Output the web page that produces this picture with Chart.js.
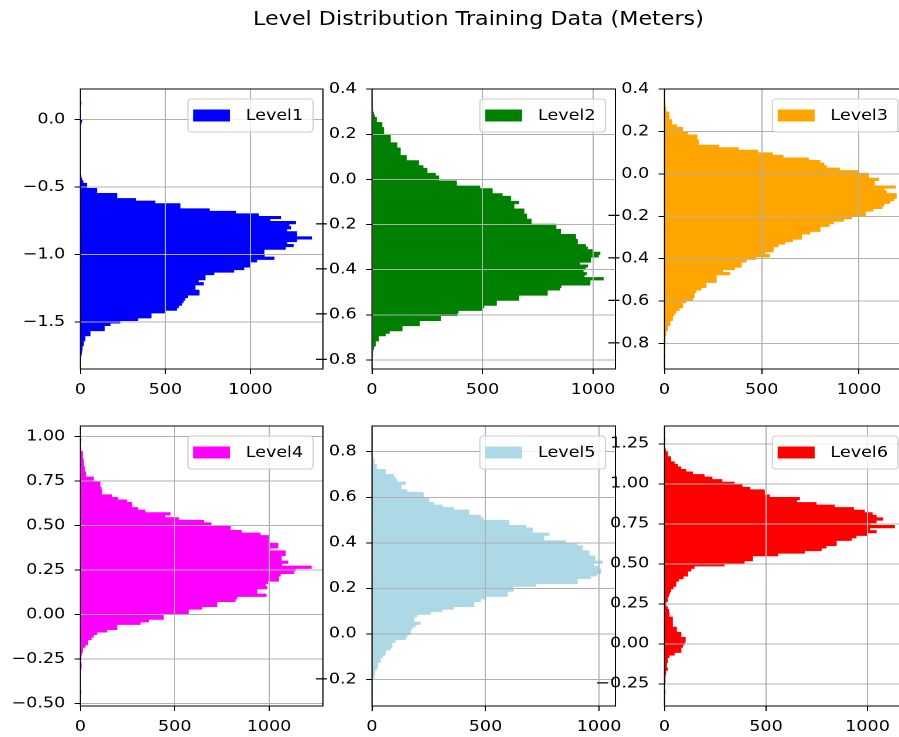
<!DOCTYPE html>
<html>
<head>
<meta charset="utf-8">
<script src="https://cdn.jsdelivr.net/npm/chart.js@4.4.1/dist/chart.umd.min.js"></script>
<style>
html, body { margin: 0; padding: 0; background: #fff; overflow: hidden; width: 899px; height: 737px; }
#stage { position: absolute; left: 0; top: 0; width: 820px; height: 737px; transform-origin: 0 0; }
.panel { position: absolute; }
#title { position: absolute; left: 0; top: 8px; font-family: 'DejaVu Sans'; font-size: 19px; line-height: 20px; color: #000; text-align: center; white-space: nowrap; }
</style>
</head>
<body>
<div id="stage">
  <div id="title">Level Distribution Training Data (Meters)</div>
  <div class="panel" id="p0"><canvas id="c0"></canvas></div>
  <div class="panel" id="p1"><canvas id="c1"></canvas></div>
  <div class="panel" id="p2"><canvas id="c2"></canvas></div>
  <div class="panel" id="p3"><canvas id="c3"></canvas></div>
  <div class="panel" id="p4"><canvas id="c4"></canvas></div>
  <div class="panel" id="p5"><canvas id="c5"></canvas></div>
</div>
<script>
// ---------------- DATA ----------------
const levelNames = ['Level1', 'Level2', 'Level3', 'Level4', 'Level5', 'Level6'];

// histogram bin layout (100 bins each): first bin start, bin width (meters)
const binStart = [-1.7546, -0.7837, -0.8612, -0.4415, -0.2611, -0.3095];
const binWidth = [0.01888, 0.011267, 0.012019, 0.0143, 0.011182, 0.015905];

// counts per bin, lowest bin first
const level1Counts = [
  4, 6, 10, 10, 18, 18, 27, 27, 57, 57,
  141, 141, 175, 233, 337, 416, 416, 498, 566, 576,
  596, 605, 615, 631, 698, 698, 674, 674, 723, 694,
  733, 733, 786, 903, 962, 998, 998, 1037, 1139, 1082,
  1080, 1080, 1205, 1252, 1215, 1272, 1360, 1272, 1272, 1213,
  1237, 1227, 1266, 1115, 1178, 1047, 913, 758, 586, 586,
  439, 325, 214, 214, 96, 96, 37, 37, 15, 8,
  3, 0, 0, 0, 0, 0, 0, 0, 0, 0,
  0, 0, 0, 0, 0, 0, 0, 0, 0, 0,
  0, 3, 8, 0, 0, 0, 0, 0, 0, 1
];
const level2Counts = [
  1, 2, 5, 8, 15, 15, 30, 30, 60, 78,
  136, 136, 214, 214, 310, 310, 385, 390, 500, 506,
  563, 563, 664, 664, 793, 793, 850, 855, 986, 986,
  1046, 960, 970, 955, 965, 975, 940, 989, 989, 1024,
  1031, 997, 974, 966, 929, 929, 921, 921, 853, 853,
  832, 832, 720, 720, 699, 699, 687, 687, 642, 642,
  664, 627, 627, 589, 544, 544, 488, 382, 382, 302,
  302, 287, 249, 249, 231, 211, 211, 155, 155, 128,
  128, 128, 113, 113, 83, 83, 83, 53, 53, 53,
  45, 45, 20, 20, 12, 7, 3, 1, 0, 1
];
const level3Counts = [
  1, 0, 0, 1, 1, 1, 3, 3, 7, 7,
  16, 16, 28, 28, 41, 41, 50, 59, 76, 93,
  93, 110, 145, 153, 153, 162, 188, 214, 214, 266,
  266, 266, 335, 300, 360, 395, 395, 420, 470, 541,
  516, 559, 559, 585, 619, 659, 705, 705, 748, 800,
  800, 847, 869, 921, 964, 1033, 1033, 1073, 1119, 1128,
  1159, 1179, 1192, 1192, 1142, 1131, 1188, 1079, 1079, 1102,
  1050, 1048, 1000, 900, 833, 820, 800, 740, 610, 555,
  480, 380, 280, 176, 176, 167, 167, 119, 93, 93,
  62, 38, 38, 24, 24, 24, 7, 7, 0, 1
];
const level4Counts = [
  1, 0, 0, 0, 0, 0, 0, 0, 0, 1,
  4, 4, 0, 1, 2, 5, 11, 11, 25, 39,
  39, 57, 69, 87, 140, 193, 193, 317, 361, 440,
  440, 573, 573, 644, 724, 724, 821, 830, 985, 936,
  936, 989, 980, 994, 1051, 1051, 1060, 1130, 1139, 1224,
  1068, 1100, 1065, 1065, 1086, 1086, 998, 1047, 1047, 998,
  998, 998, 953, 853, 794, 794, 693, 653, 520, 449,
  476, 343, 304, 272, 272, 246, 198, 166, 113, 113,
  110, 104, 104, 69, 69, 28, 28, 21, 21, 16,
  16, 16, 11, 11, 11, 3, 0, 0, 0, 1
];
const level5Counts = [
  1, 0, 0, 1, 2, 4, 8, 12, 12, 19,
  25, 25, 37, 37, 48, 59, 59, 81, 88, 88,
  103, 147, 154, 169, 169, 176, 191, 213, 184, 184,
  198, 257, 309, 360, 449, 449, 478, 500, 596, 596,
  622, 622, 721, 904, 904, 963, 990, 1007, 1007, 997,
  975, 1015, 981, 981, 956, 956, 927, 927, 904, 853,
  757, 757, 780, 706, 706, 677, 603, 603, 490, 478,
  426, 426, 360, 309, 272, 250, 250, 228, 225, 154,
  128, 128, 147, 110, 103, 95, 59, 59, 19, 19,
  10, 10, 4, 0, 0, 0, 0, 0, 0, 1
];
const level6Counts = [
  1, 0, 0, 0, 1, 2, 3, 5, 7, 15,
  10, 10, 15, 15, 23, 48, 81, 81, 89, 97,
  102, 102, 81, 81, 59, 59, 39, 39, 39, 39,
  23, 23, 20, 15, 7, 7, 15, 15, 20, 26,
  31, 43, 56, 56, 69, 92, 114, 114, 130, 146,
  294, 393, 434, 434, 558, 689, 772, 796, 846, 846,
  920, 944, 997, 1043, 1010, 1133, 1013, 1043, 1076, 1043,
  1023, 985, 931, 837, 747, 651, 665, 517, 492, 492,
  421, 382, 344, 283, 234, 196, 138, 105, 81, 64,
  48, 31, 31, 15, 15, 5, 0, 0, 0, 1
];
const allCounts = [level1Counts, level2Counts, level3Counts, level4Counts, level5Counts, level6Counts];

// axis limits
const yMins = [-1.849, -0.840, -0.921, -0.513, -0.317, -0.389];
const yMaxs = [0.228, 0.401, 0.401, 1.060, 0.913, 1.361];
const xMaxs = [1427, 1101, 1252, 1286, 1072, 1199];

// tick values and labels
const xTickValues = [0, 500, 1000];
const xTickLabels = ['0', '500', '1000'];
const yTickValues = [
  [-1.5, -1.0, -0.5, 0.0],
  [-0.8, -0.6, -0.4, -0.2, 0.0, 0.2, 0.4],
  [-0.8, -0.6, -0.4, -0.2, 0.0, 0.2, 0.4],
  [-0.5, -0.25, 0.0, 0.25, 0.5, 0.75, 1.0],
  [-0.2, 0.0, 0.2, 0.4, 0.6, 0.8],
  [-0.25, 0.0, 0.25, 0.5, 0.75, 1.0, 1.25]
];
const yTickLabels = [
  ['\u22121.5', '\u22121.0', '\u22120.5', '0.0'],
  ['\u22120.8', '\u22120.6', '\u22120.4', '\u22120.2', '0.0', '0.2', '0.4'],
  ['\u22120.8', '\u22120.6', '\u22120.4', '\u22120.2', '0.0', '0.2', '0.4'],
  ['\u22120.50', '\u22120.25', '0.00', '0.25', '0.50', '0.75', '1.00'],
  ['\u22120.2', '0.0', '0.2', '0.4', '0.6', '0.8'],
  ['\u22120.25', '0.00', '0.25', '0.50', '0.75', '1.00', '1.25']
];
const barColors = ['#0000ff', '#008000', '#ffa500', '#ff00ff', '#add8e6', '#ff0000'];

// ---------------- LAYOUT (styles) ----------------
const SX = 1.17;                       // horizontal stretch of the reference picture
const plotLefts = [80, 372, 664];
const plotTops = [89, 426];
const PLOT_W = 243, PLOT_H = 280;
const YAX_W = 70, PAD_T = 18, PAD_R = 18, XAX_H = 40;
const FONT = 'DejaVu Sans';

document.getElementById('stage').style.transform = 'scaleX(' + SX + ')';
const title = document.getElementById('title');
title.style.width = (957 / SX) + 'px';

const framePlugin = {
  id: 'frame',
  afterDraw(chart) {
    const a = chart.chartArea, ctx = chart.ctx;
    ctx.save();
    ctx.strokeStyle = '#000';
    ctx.lineWidth = 1;
    ctx.strokeRect(a.left, a.top, a.right - a.left, a.bottom - a.top);
    ctx.restore();
  }
};

const legendPlugin = {
  id: 'mplLegend',
  afterDraw(chart) {
    const ds = chart.data.datasets[0];
    const ctx = chart.ctx, a = chart.chartArea;
    ctx.save();
    ctx.font = '15px "' + FONT + '"';
    const tw = ctx.measureText(ds.label).width;
    const padL = 4.5, hw = 31.6, hh = 12, gap = 13.4, padR = 8.5, bh = 33;
    const bw = padL + hw + gap + tw + padR;
    const bx = a.right - 8.5 - bw, by = a.top + 10;
    ctx.beginPath();
    ctx.roundRect(bx, by, bw, bh, 3);
    ctx.fillStyle = 'rgba(255,255,255,0.8)';
    ctx.fill();
    ctx.strokeStyle = '#cccccc';
    ctx.lineWidth = 1;
    ctx.stroke();
    ctx.fillStyle = ds.backgroundColor;
    ctx.fillRect(bx + padL, by + bh / 2 - hh / 2, hw, hh);
    ctx.fillStyle = '#000';
    ctx.textBaseline = 'middle';
    ctx.textAlign = 'left';
    ctx.fillText(ds.label, bx + padL + hw + gap, by + bh / 2 + 0.5);
    ctx.restore();
  }
};

for (let k = 0; k < 6; k++) {
  const col = k % 3, row = Math.floor(k / 3);
  const div = document.getElementById('p' + k);
  div.style.left = ((plotLefts[col] - YAX_W) / SX) + 'px';
  div.style.top = (plotTops[row] - PAD_T) + 'px';
  div.style.width = ((YAX_W + PLOT_W + PAD_R) / SX) + 'px';
  div.style.height = (PAD_T + PLOT_H + XAX_H) + 'px';

  const counts = allCounts[k];
  const points = counts.map((c, i) => ({ x: c, y: binStart[k] + (i + 0.5) * binWidth[k] }));
  const yt = yTickValues[k], yl = yTickLabels[k];

  const gridOpts = () => ({ offset: false, color: '#b0b0b0', lineWidth: 1, z: 1, tickColor: '#000', tickLength: 5, drawTicks: true });
  const tickFont = { family: FONT, size: 15 };

  new Chart(document.getElementById('c' + k), {
    type: 'bar',
    data: {
      datasets: [{
        label: levelNames[k],
        data: points,
        backgroundColor: barColors[k],
        borderWidth: 0,
        barPercentage: 1,
        categoryPercentage: 1
      }]
    },
    options: {
      indexAxis: 'y',
      responsive: true,
      maintainAspectRatio: false,
      animation: false,
      devicePixelRatio: 2,
      events: [],
      layout: { padding: { left: 0, top: PAD_T, right: PAD_R / SX, bottom: 0 } },
      plugins: { legend: { display: false }, tooltip: { enabled: false }, title: { display: false } },
      scales: {
        x: {
          type: 'linear', min: 0, max: xMaxs[k], offset: false,
          afterFit: s => { s.height = XAX_H; },
          afterBuildTicks: s => { s.ticks = xTickValues.map(v => ({ value: v })); },
          grid: gridOpts(),
          border: { display: false },
          ticks: { color: '#000', font: tickFont, padding: 7, maxRotation: 0, autoSkip: false,
                   callback: (v, i) => xTickLabels[i] }
        },
        y: {
          type: 'linear', min: yMins[k], max: yMaxs[k], offset: false,
          afterFit: s => { s.width = YAX_W / SX; },
          afterBuildTicks: s => { s.ticks = yt.map(v => ({ value: v })); },
          grid: gridOpts(),
          border: { display: false },
          ticks: { color: '#000', font: tickFont, padding: 8, autoSkip: false,
                   callback: (v, i) => yl[i] }
        }
      }
    },
    plugins: [framePlugin, legendPlugin]
  });
}
</script>
</body>
</html>
